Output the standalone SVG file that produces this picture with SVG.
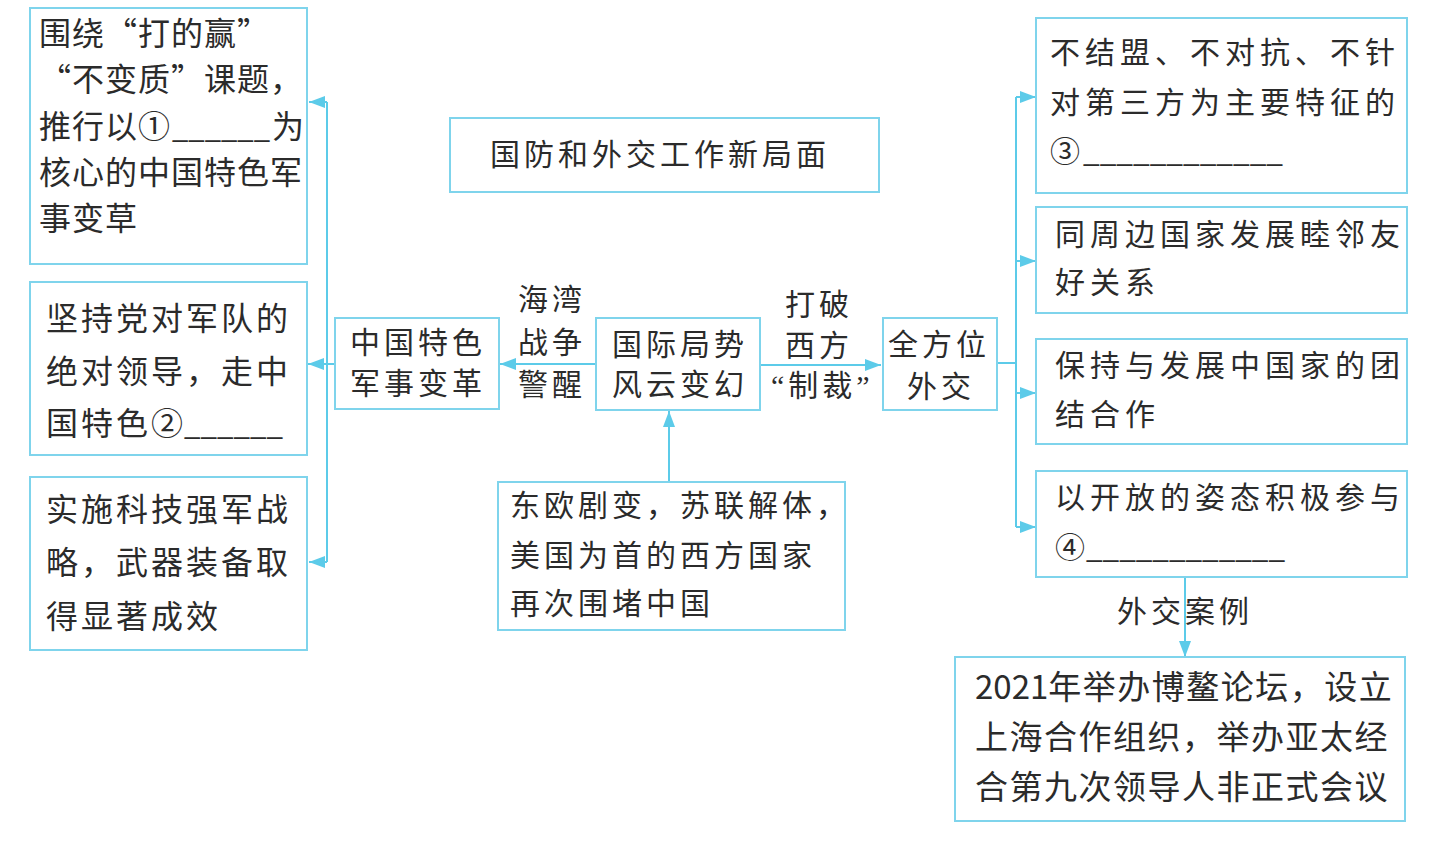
<svg xmlns="http://www.w3.org/2000/svg" width="1440" height="843" viewBox="0 0 1440 843">
<defs>
<style>
.box{fill:none;stroke:#7fd4ec;stroke-width:2}
.conn{fill:none;stroke:#5ccbe9;stroke-width:2}
.t{font-family:"Noto Sans CJK SC","Noto Sans CJK TC",sans-serif;fill:#2b2b2b;font-size:30px;letter-spacing:4px}
.l{font-size:32px;letter-spacing:1px}
.l3{font-size:32px;letter-spacing:3px}
.r{letter-spacing:5px}
.e{font-size:33px;letter-spacing:1.5px}
.u{letter-spacing:0}
.q{font-family:"Liberation Serif",serif}
</style>
<marker id="ah" markerUnits="userSpaceOnUse" markerWidth="16" markerHeight="12" refX="16" refY="6" orient="auto">
<path d="M0,0 L16,6 L0,12 z" fill="#5ccbe9"/>
</marker>
</defs>
<rect width="1440" height="843" fill="#ffffff"/>
<g id="connectors">
<path class="conn" d="M596,364 H500" marker-end="url(#ah)"/>
<path class="conn" d="M335,364 H308" marker-end="url(#ah)"/>
<path class="conn" d="M327,102 V562"/>
<path class="conn" d="M327,102 H309" marker-end="url(#ah)"/>
<path class="conn" d="M327,562 H309" marker-end="url(#ah)"/>
<path class="conn" d="M760,365 H881" marker-end="url(#ah)"/>
<path class="conn" d="M997,363 H1016"/>
<path class="conn" d="M1016,97 V527"/>
<path class="conn" d="M1016,97 H1036" marker-end="url(#ah)"/>
<path class="conn" d="M1016,261 H1036" marker-end="url(#ah)"/>
<path class="conn" d="M1016,393 H1036" marker-end="url(#ah)"/>
<path class="conn" d="M1016,527 H1036" marker-end="url(#ah)"/>
<path class="conn" d="M669,482 V411" marker-end="url(#ah)"/>
<path class="conn" d="M1185,577 V657" marker-end="url(#ah)"/>
<text class="t" x="518" y="310">海湾</text>
<text class="t" x="518" y="353">战争</text>
<text class="t" x="518" y="395">警醒</text>
<text class="t" x="785" y="315">打破</text>
<text class="t" x="785" y="356">西方</text>
<text class="t" x="771" y="396"><tspan class="q">“</tspan>制裁<tspan class="q">”</tspan></text>
<text class="t" x="1117" y="622">外交案例</text>
</g>
<g id="title">
<rect class="box" x="450" y="118" width="429" height="74"/>
<text class="t" x="490" y="165">国防和外交工作新局面</text>
</g>
<g id="left1">
<rect class="box" x="30" y="8" width="277" height="256"/>
<text class="t l" x="39" y="45">围绕“打的赢”</text>
<text class="t l" x="39" y="91">“不变质”课题，</text>
<text class="t l" x="39" y="138">推行以①</text>
<text class="t u" x="172" y="138" textLength="98" lengthAdjust="spacingAndGlyphs">______</text>
<text class="t l" x="272" y="138">为</text>
<text class="t l" x="39" y="184">核心的中国特色军</text>
<text class="t l" x="39" y="230">事变草</text>
</g>
<g id="left2">
<rect class="box" x="30" y="282" width="277" height="173"/>
<text class="t l3" x="46" y="330">坚持党对军队的</text>
<text class="t l3" x="46" y="383">绝对领导，走中</text>
<text class="t l3" x="46" y="435">国特色②</text>
<text class="t u" x="184" y="435" textLength="99" lengthAdjust="spacingAndGlyphs">______</text>
</g>
<g id="left3">
<rect class="box" x="30" y="477" width="277" height="173"/>
<text class="t l3" x="46" y="521">实施科技强军战</text>
<text class="t l3" x="46" y="574">略，武器装备取</text>
<text class="t l3" x="46" y="628">得显著成效</text>
</g>
<g id="military">
<rect class="box" x="335" y="318" width="164" height="91"/>
<text class="t" x="350" y="353">中国特色</text>
<text class="t" x="350" y="394">军事变革</text>
</g>
<g id="situation">
<rect class="box" x="596" y="318" width="164" height="92"/>
<text class="t" x="612" y="355">国际局势</text>
<text class="t" x="612" y="395">风云变幻</text>
</g>
<g id="diplomacy">
<rect class="box" x="883" y="318" width="114" height="92"/>
<text class="t" x="888" y="355">全方位</text>
<text class="t" x="907" y="397">外交</text>
</g>
<g id="cause">
<rect class="box" x="498" y="482" width="347" height="148"/>
<text class="t" x="510" y="516">东欧剧变，苏联解体，</text>
<text class="t" x="510" y="566">美国为首的西方国家</text>
<text class="t" x="510" y="614">再次围堵中国</text>
</g>
<g id="right1">
<rect class="box" x="1036" y="18" width="371" height="175"/>
<text class="t r" x="1050" y="63">不结盟、不对抗、不针</text>
<text class="t r" x="1050" y="113">对第三方为主要特征的</text>
<text class="t" x="1050" y="162">③</text>
<text class="t u" x="1083" y="162" textLength="200" lengthAdjust="spacingAndGlyphs">____________</text>
</g>
<g id="right2">
<rect class="box" x="1036" y="207" width="371" height="106"/>
<text class="t r" x="1055" y="245">同周边国家发展睦邻友</text>
<text class="t r" x="1055" y="293">好关系</text>
</g>
<g id="right3">
<rect class="box" x="1036" y="339" width="371" height="105"/>
<text class="t r" x="1055" y="376">保持与发展中国家的团</text>
<text class="t r" x="1055" y="425">结合作</text>
</g>
<g id="right4">
<rect class="box" x="1036" y="471" width="371" height="106"/>
<text class="t r" x="1055" y="508">以开放的姿态积极参与</text>
<text class="t" x="1055" y="558">④</text>
<text class="t u" x="1086" y="558" textLength="199" lengthAdjust="spacingAndGlyphs">____________</text>
</g>
<g id="example">
<rect class="box" x="955" y="657" width="450" height="164"/>
<text class="t e" x="975" y="699"><tspan class="u">2021</tspan>年举办博鳌论坛，设立</text>
<text class="t e" x="975" y="749">上海合作组织，举办亚太经</text>
<text class="t e" x="975" y="799">合第九次领导人非正式会议</text>
</g>
</svg>
